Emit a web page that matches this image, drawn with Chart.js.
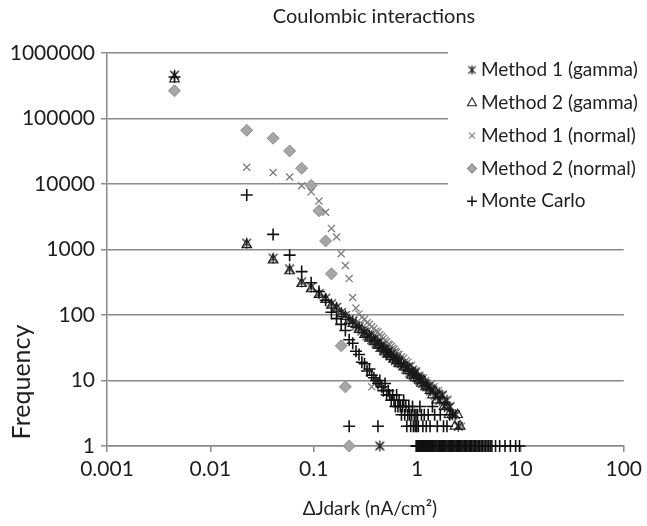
<!DOCTYPE html>
<html>
<head>
<meta charset="utf-8">
<script src="https://cdn.jsdelivr.net/npm/chart.js@4.4.0/dist/chart.umd.min.js"></script>
<style>
  html, body { margin: 0; padding: 0; background: #ffffff; }
  canvas { display: block; }
</style>
</head>
<body>
<canvas id="chart" width="647" height="526"></canvas>
<script>
// Textos del grafico
const chartTitle = "Coulombic interactions";
const xTitle = "ΔJdark (nA/cm²)";
const yTitle = "Frequency";
const seriesNames = ["Method 1 (gamma)", "Method 2 (gamma)", "Method 1 (normal)", "Method 2 (normal)", "Monte Carlo"];

// Ticks de los ejes (log)
const xTicks = [0.001, 0.01, 0.1, 1, 10, 100];
const yTicks = [1, 10, 100, 1000, 10000, 100000, 1000000];

// Datos: [x, frecuencia]
const method1Gamma = [
  [0.0045, 460000], [0.0225, 1250], [0.0405, 740], [0.0585, 505], [0.0765, 320], [0.0945, 268],
  [0.1125, 212], [0.1305, 180], [0.1485, 148], [0.1665, 131], [0.1845, 109], [0.2025, 98],
  [0.2205, 85], [0.2385, 80], [0.2565, 68], [0.2745, 66], [0.2925, 57], [0.3105, 55],
  [0.3285, 48], [0.3465, 49], [0.3645, 42], [0.3825, 43], [0.4005, 37], [0.4185, 38],
  [0.4365, 32], [0.4545, 34], [0.4725, 29], [0.4905, 30], [0.5085, 26], [0.5265, 28],
  [0.5445, 24], [0.5625, 26], [0.5805, 22], [0.5985, 23], [0.6165, 20], [0.6345, 22],
  [0.6525, 19], [0.6705, 20], [0.7065, 18], [0.7425, 17], [0.7785, 15], [0.8145, 16],
  [0.8505, 13], [0.8865, 14], [0.9225, 12], [0.9585, 13], [0.9945, 11], [1.0305, 11],
  [1.0665, 10], [1.1025, 10], [1.1385, 9], [1.1925, 9], [1.2465, 8], [1.3005, 8],
  [1.3545, 7], [1.4265, 7], [1.4985, 6], [1.5705, 6], [1.6605, 5], [1.7505, 6],
  [1.8405, 4], [1.9485, 5], [2.0745, 4], [2.2005, 3], [2.3445, 3], [2.5065, 2], [0.4365, 1]
];
const method2Gamma = [
  [0.0045, 400000], [0.0225, 1180], [0.0405, 690], [0.0585, 470], [0.0765, 300], [0.0945, 250],
  [0.1125, 205], [0.1305, 172], [0.1485, 140], [0.1665, 126], [0.1845, 104], [0.2025, 94],
  [0.2205, 82], [0.2385, 74], [0.2565, 71], [0.2745, 60], [0.2925, 59], [0.3105, 50],
  [0.3285, 51], [0.3465, 44], [0.3645, 45], [0.3825, 39], [0.4005, 40], [0.4185, 34],
  [0.4365, 35], [0.4545, 31], [0.4725, 31], [0.4905, 27], [0.5085, 29], [0.5265, 25],
  [0.5445, 25], [0.5625, 23], [0.5985, 21], [0.6345, 20], [0.6705, 18], [0.7065, 19],
  [0.7425, 16], [0.7785, 16], [0.8145, 14], [0.8505, 15], [0.8865, 12], [0.9225, 13],
  [0.9585, 11], [0.9945, 12], [1.0485, 10], [1.1025, 9], [1.1565, 10], [1.2105, 8],
  [1.2645, 8], [1.3365, 7], [1.4085, 6], [1.4805, 7], [1.5525, 5], [1.6425, 6],
  [1.7325, 5], [1.8225, 4], [1.9305, 4], [2.0385, 3], [2.1825, 3], [2.3265, 2],
  [2.4705, 3], [2.6145, 2]
];
const method1Normal = [
  [0.0045, 455000], [0.0225, 18000], [0.0405, 15000], [0.0585, 12800], [0.0765, 9400], [0.0945, 7600],
  [0.1125, 5500], [0.1305, 3700], [0.1485, 2100], [0.1665, 1550], [0.1845, 860], [0.2025, 570],
  [0.2205, 360], [0.2385, 185], [0.2565, 128], [0.2745, 104], [0.2925, 92], [0.3105, 86],
  [0.3285, 76], [0.3465, 72], [0.3645, 66], [0.3645, 8], [0.3825, 62], [0.4005, 57],
  [0.4185, 55], [0.4365, 50], [0.4365, 1], [0.4545, 47], [0.4725, 44], [0.4905, 41],
  [0.5085, 39], [0.5265, 36], [0.5445, 35], [0.5625, 33], [0.5805, 31], [0.5985, 30],
  [0.6165, 28], [0.6345, 27], [0.6525, 25], [0.6705, 25], [0.7065, 23], [0.7425, 22],
  [0.7785, 20], [0.8145, 19], [0.8505, 17], [0.8865, 17], [0.9225, 15], [0.9585, 14],
  [0.9945, 14], [1.0305, 12], [1.0665, 12], [1.1025, 11], [1.1565, 11], [1.2105, 10],
  [1.2645, 9], [1.3185, 8], [1.3905, 9], [1.4625, 8], [1.5345, 7], [1.6065, 7],
  [1.6965, 6], [1.7865, 6], [1.8765, 5], [1.9845, 4], [2.1105, 4], [2.2545, 3],
  [2.3985, 3], [2.5425, 2], [2.6865, 2]
];
const method2Normal = [
  [0.0045, 265000], [0.0225, 66000], [0.0405, 50000], [0.0585, 32000], [0.0765, 17400], [0.0945, 9500],
  [0.1125, 3900], [0.1305, 1350], [0.1485, 425], [0.1845, 34], [0.2025, 8], [0.2205, 1]
];
const monteCarlo = [
  [0.0045, 430000], [0.0225, 6800], [0.0405, 1700], [0.0585, 820], [0.0765, 460], [0.0945, 310],
  [0.1125, 228], [0.1305, 168], [0.1485, 110], [0.1665, 88], [0.1845, 72], [0.2025, 58],
  [0.2205, 42], [0.2205, 2], [0.2385, 37], [0.2565, 28], [0.2745, 25], [0.2925, 19],
  [0.3105, 18], [0.3285, 14], [0.3465, 15], [0.3645, 12], [0.3825, 11], [0.4005, 10],
  [0.4185, 9], [0.4185, 2], [0.4365, 10], [0.4545, 8], [0.4725, 7], [0.4905, 9],
  [0.5085, 6], [0.5265, 7], [0.5445, 6], [0.5625, 5], [0.5805, 6], [0.5985, 5],
  [0.6165, 4], [0.6345, 6], [0.6525, 4], [0.6705, 5], [0.6885, 4], [0.7065, 3],
  [0.7245, 4], [0.7425, 5], [0.7605, 3], [0.7785, 4], [0.7965, 2], [0.8145, 3],
  [0.8325, 4], [0.8505, 3], [0.8685, 2], [0.8865, 3], [0.9045, 4], [0.9225, 2],
  [0.9405, 3], [0.9585, 2], [0.9765, 3], [0.9945, 2], [1.0125, 3], [1.0305, 2],
  [1.0665, 4], [1.1025, 3], [1.1385, 2], [1.1745, 3], [1.2285, 2], [1.2825, 3],
  [1.3365, 2], [1.4085, 4], [1.4805, 3], [1.5705, 2], [1.6785, 3], [1.8045, 2],
  [1.9485, 2], [2.0745, 3],
  [0.98, 1], [1.00, 1], [1.02, 1], [1.04, 1], [1.06, 1], [1.08, 1], [1.10, 1], [1.13, 1],
  [1.15, 1], [1.18, 1], [1.21, 1], [1.23, 1], [1.26, 1], [1.29, 1], [1.32, 1], [1.35, 1],
  [1.38, 1], [1.42, 1], [1.45, 1], [1.49, 1], [1.52, 1], [1.56, 1], [1.60, 1], [1.64, 1],
  [1.68, 1], [1.72, 1], [1.76, 1], [1.81, 1], [1.85, 1], [1.90, 1], [1.95, 1], [2.00, 1],
  [2.05, 1], [2.10, 1], [2.16, 1], [2.21, 1], [2.27, 1], [2.33, 1], [2.39, 1], [2.45, 1],
  [2.52, 1], [2.58, 1], [2.65, 1], [2.72, 1], [2.79, 1], [2.87, 1], [2.95, 1], [3.03, 1],
  [3.11, 1], [3.20, 1], [3.29, 1], [3.38, 1], [3.48, 1], [3.58, 1], [3.69, 1], [3.80, 1],
  [3.92, 1], [4.04, 1], [4.17, 1], [4.30, 1], [4.45, 1], [4.60, 1], [4.76, 1], [4.93, 1],
  [5.10, 1], [5.30, 1], [5.75, 1], [6.3, 1], [7.1, 1], [8.0, 1], [9.0, 1], [9.8, 1]
];

const FONT = "Lato, 'Open Sans', sans-serif";
const TEXT_COLOR = "#1e1e1e";
const GRID_COLOR = "#8a8a8a";

// Marcador asterisco (Excel "star")
function makeStar(size, color) {
  const c = document.createElement("canvas");
  c.width = size;
  c.height = size;
  const g = c.getContext("2d");
  const m = size / 2;
  const r = size / 2 - 1;
  g.strokeStyle = color;
  g.lineWidth = 1.3;
  g.beginPath();
  g.moveTo(m - r * 0.8, m - r * 0.8);
  g.lineTo(m + r * 0.8, m + r * 0.8);
  g.moveTo(m + r * 0.8, m - r * 0.8);
  g.lineTo(m - r * 0.8, m + r * 0.8);
  g.moveTo(m, m - r);
  g.lineTo(m, m + r);
  g.stroke();
  return c;
}
const starBig = makeStar(13, "#1a1a1a");
const starSmall = makeStar(11, "#1a1a1a");

const toPoints = (arr) => arr.map(([x, y]) => ({ x, y }));

// Marcadores de la leyenda
function drawLegendMarker(ctx, i, x, y) {
  ctx.save();
  ctx.lineWidth = 1.1;
  ctx.beginPath();
  if (i === 0) {
    ctx.drawImage(starSmall, x - 5.5, y - 5.5);
  } else if (i === 1) {
    ctx.strokeStyle = "#262626";
    ctx.moveTo(x, y - 5);
    ctx.lineTo(x + 4.5, y + 3);
    ctx.lineTo(x - 4.5, y + 3);
    ctx.closePath();
    ctx.stroke();
  } else if (i === 2) {
    ctx.strokeStyle = "#7f7f7f";
    ctx.moveTo(x - 3, y - 3);
    ctx.lineTo(x + 3, y + 3);
    ctx.moveTo(x + 3, y - 3);
    ctx.lineTo(x - 3, y + 3);
    ctx.stroke();
  } else if (i === 3) {
    ctx.fillStyle = "#a6a6a6";
    ctx.strokeStyle = "#8a8a8a";
    ctx.moveTo(x, y - 4.5);
    ctx.lineTo(x + 4.5, y);
    ctx.lineTo(x, y + 4.5);
    ctx.lineTo(x - 4.5, y);
    ctx.closePath();
    ctx.fill();
    ctx.stroke();
  } else {
    ctx.strokeStyle = "#111111";
    ctx.lineWidth = 1.5;
    ctx.moveTo(x - 5, y);
    ctx.lineTo(x + 5, y);
    ctx.moveTo(x, y - 5);
    ctx.lineTo(x, y + 5);
    ctx.stroke();
  }
  ctx.restore();
}

// Titulos y leyenda dibujados a mano
const textPlugin = {
  id: "textos",
  afterDraw(chart) {
    const ctx = chart.ctx;
    ctx.save();
    ctx.fillStyle = TEXT_COLOR;
    ctx.textAlign = "center";
    ctx.textBaseline = "middle";
    ctx.font = "20px " + FONT;
    ctx.fillText(chartTitle, 374, 17);
    ctx.font = "19px " + FONT;
    ctx.fillText(xTitle, 370, 509);

    // leyenda dentro del area
    ctx.fillStyle = "#ffffff";
    ctx.fillRect(448, 44, 199, 172);
    ctx.font = "19px " + FONT;
    ctx.textAlign = "left";
    seriesNames.forEach((name, i) => {
      const y = 70 + i * 32.8;
      drawLegendMarker(ctx, i, 472, y);
      ctx.fillStyle = TEXT_COLOR;
      ctx.fillText(name, 481, y);
    });

    ctx.translate(22, 382);
    ctx.rotate(-Math.PI / 2);
    ctx.textAlign = "center";
    ctx.font = "25px " + FONT;
    ctx.fillText(yTitle, 0, 0);
    ctx.restore();
  },
};

const ctx = document.getElementById("chart").getContext("2d");
new Chart(ctx, {
  type: "scatter",
  data: {
    datasets: [
      {
        label: seriesNames[0],
        data: toPoints(method1Gamma),
        pointStyle: starBig,
        order: 1,
      },
      {
        label: seriesNames[1],
        data: toPoints(method2Gamma),
        pointStyle: "triangle",
        pointRadius: 5.5,
        borderColor: "#262626",
        backgroundColor: "rgba(0,0,0,0)",
        borderWidth: 1.2,
        order: 2,
      },
      {
        label: seriesNames[2],
        data: toPoints(method1Normal),
        pointStyle: "crossRot",
        pointRadius: 5,
        borderColor: "#7f7f7f",
        borderWidth: 1.3,
        order: 3,
      },
      {
        label: seriesNames[3],
        data: toPoints(method2Normal),
        pointStyle: "rectRot",
        pointRadius: 6,
        backgroundColor: "#a6a6a6",
        borderColor: "#8c8c8c",
        borderWidth: 1,
        order: 4,
      },
      {
        label: seriesNames[4],
        data: toPoints(monteCarlo),
        pointStyle: "cross",
        pointRadius: 6,
        borderColor: "#111111",
        borderWidth: 1.6,
        order: 0,
      },
    ],
  },
  options: {
    responsive: false,
    animation: false,
    devicePixelRatio: 1,
    layout: { padding: { left: 0, right: 19, top: 53, bottom: 0 } },
    datasets: { scatter: { clip: false } },
    plugins: {
      legend: { display: false },
      title: { display: false },
      tooltip: { enabled: false },
    },
    scales: {
      x: {
        type: "logarithmic",
        min: 0.001,
        max: 100,
        afterBuildTicks: (scale) => {
          scale.ticks = xTicks.map((v) => ({ value: v }));
        },
        afterFit: (scale) => {
          scale.height = 80;
        },
        ticks: {
          callback: (v) => String(v),
          color: TEXT_COLOR,
          font: { family: FONT, size: 21 },
          padding: 5,
          maxRotation: 0,
        },
        grid: { drawOnChartArea: false, drawTicks: true, tickLength: 6, color: GRID_COLOR, lineWidth: 1.5 },
        border: { color: GRID_COLOR, width: 1.5 },
      },
      y: {
        type: "logarithmic",
        min: 1,
        max: 1000000,
        afterBuildTicks: (scale) => {
          scale.ticks = yTicks.map((v) => ({ value: v }));
        },
        afterFit: (scale) => {
          scale.width = 107;
        },
        ticks: {
          callback: (v) => String(v),
          color: TEXT_COLOR,
          font: { family: FONT, size: 21 },
          padding: 6,
        },
        grid: { color: GRID_COLOR, lineWidth: 1.5, tickLength: 6 },
        border: { color: GRID_COLOR, width: 1.5 },
      },
    },
  },
  plugins: [textPlugin],
});
</script>
</body>
</html>
